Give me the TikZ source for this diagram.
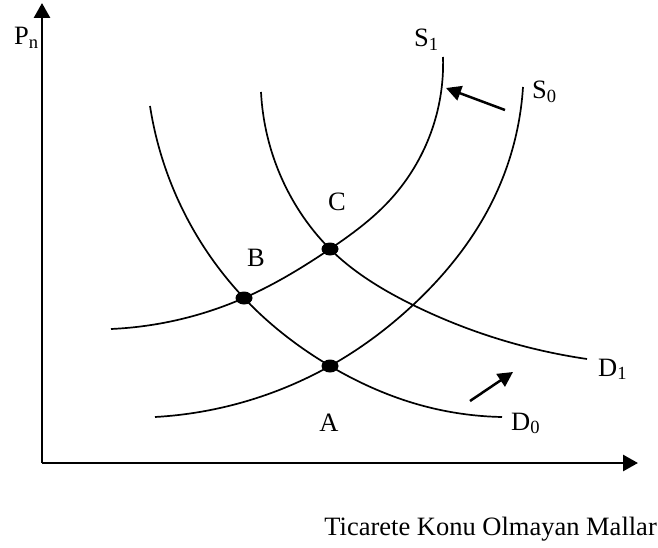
\documentclass[tikz,border=0pt]{standalone}
\usepackage{fontspec}
\setmainfont{Liberation Serif}
\usetikzlibrary{arrows.meta,hobby}

\begin{document}
\begin{tikzpicture}[x=1pt,y=-1pt,
  curve/.style={line width=1.7pt,use Hobby shortcut},
  axis/.style={line width=2.8pt,-{Triangle[length=15pt,width=16pt]}},
  shiftarrow/.style={line width=2.5pt,-{Triangle[length=15pt,width=15pt]}},
  lbl/.style={font=\fontsize{26.5}{28}\selectfont,inner sep=0pt}]
\useasboundingbox (0,0) rectangle (658,548);
\coordinate (O) at (42,463);
\coordinate (Ytop) at (42,3);
\coordinate (Xend) at (638,463);
\coordinate (A) at (330,366);
\coordinate (B) at (244,298);
\coordinate (C) at (330,249);

% Axes
\draw[axis] (O) -- (Ytop);
\draw[axis] (O) -- (Xend);

% Supply and demand curves
\draw[curve] (111,329) .. (B) .. (C) .. (390,200) .. (443,57);
\draw[curve] (155,417) .. (A) .. (413,305) .. (493,200) .. (523,87);
\draw[curve] (150,106) .. (B) .. (A) .. (420,405) .. (502,417);
\draw[curve] (261,92) .. (300,212) .. (C) .. (413,305) .. (587,359);

% Equilibrium points
\foreach \p in {A,B,C}
  \fill (\p) ellipse [x radius=8.5pt, y radius=6.5pt];

% Shift arrows
\coordinate (s tail) at (505,110);
\coordinate (s head) at (446,88);
\coordinate (d tail) at (470,401);
\coordinate (d head) at (513,372);
\draw[shiftarrow] (s tail) -- (s head);
\draw[shiftarrow] (d tail) -- (d head);

% Labels
\node[lbl,anchor=base west] (pn) at (14,45) {P\textsubscript{n}};
\node[lbl,anchor=base west] (s1) at (414,47) {S\textsubscript{1}};
\node[lbl,anchor=base west] (s0) at (532,99) {S\textsubscript{0}};
\node[lbl,anchor=base west] (d1) at (598,376) {D\textsubscript{1}};
\node[lbl,anchor=base west] (d0) at (511,430) {D\textsubscript{0}};
\node[lbl,anchor=base] (lc) at (337,210) {C};
\node[lbl,anchor=base] (lb) at (256,266) {B};
\node[lbl,anchor=base] (la) at (329,431) {A};
\node[lbl,anchor=base east] (xlab) at (657,535) {Ticarete Konu Olmayan Mallar};
\end{tikzpicture}
\end{document}
